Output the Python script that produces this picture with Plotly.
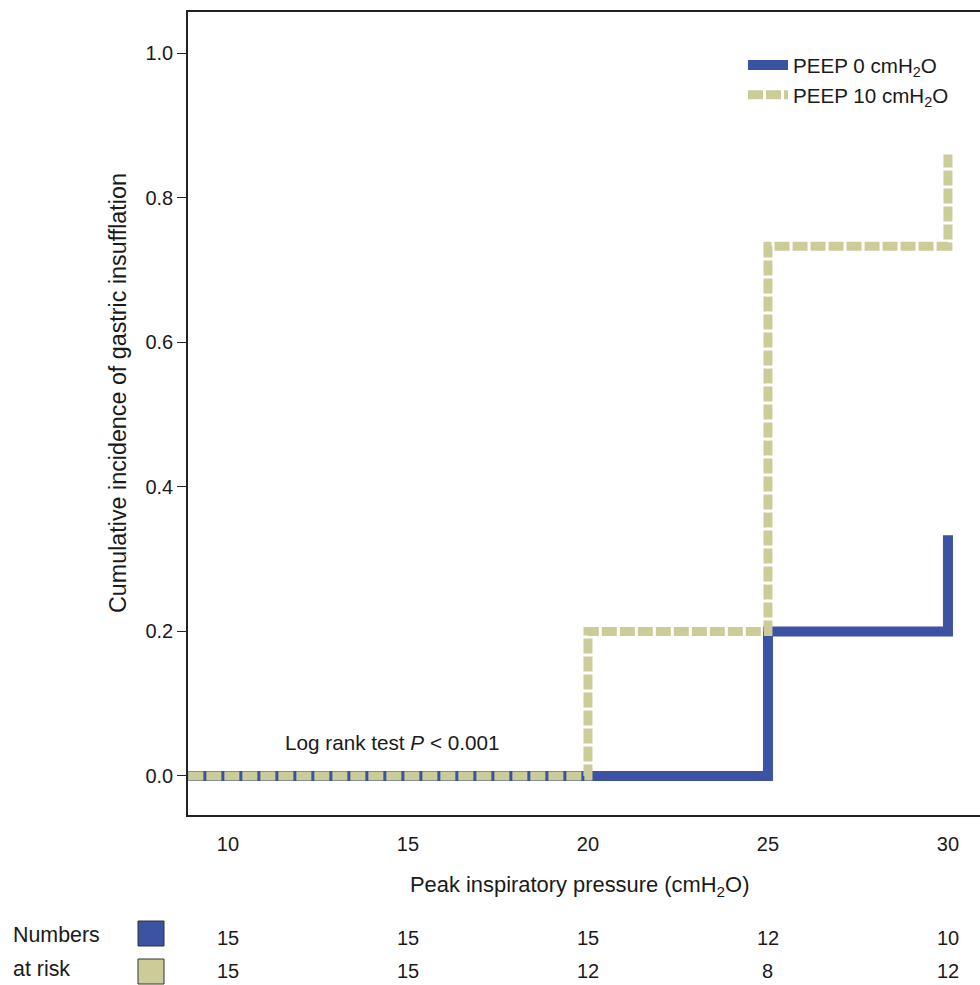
import plotly.graph_objects as go

# Data
peep0_x = [8.9, 25, 30]
peep0_y = [0.0, 0.2, 0.333]
peep10_x = [8.9, 20, 25, 30]
peep10_y = [0.0, 0.2, 0.733, 0.86]
risk_x = [10, 15, 20, 25, 30]
risk_peep0 = [15, 15, 15, 12, 10]
risk_peep10 = [15, 15, 12, 8, 12]
x_ticks = [10, 15, 20, 25, 30]
y_ticks = [0.0, 0.2, 0.4, 0.6, 0.8, 1.0]
y_ticktext = ["0.0", "0.2", "0.4", "0.6", "0.8", "1.0"]

BLUE = "#3C52A3"
KHAKI = "#CCCC99"
FONT = "Liberation Sans, Arial, sans-serif"
TXT = "#1a1a1a"

W, H = 980, 985
L, R, T, B = 188, 0, 12, 170
PW, PH = W - L - R, H - T - B


def px_to_paper_x(px):
    return (px - L) / PW


def px_to_paper_y(py):
    return (H - B - py) / PH


fig = go.Figure()
fig.add_trace(go.Scatter(x=peep0_x, y=peep0_y, mode="lines", line_shape="hv",
                         line=dict(color=BLUE, width=10), legendgroup="a",
                         name="PEEP 0 cmH<sub>2</sub>O"))
fig.add_trace(go.Scatter(x=peep10_x, y=peep10_y, mode="lines", line_shape="hv",
                         line=dict(color=KHAKI, width=9, dash="15px,3px"), legendgroup="b",
                         name="PEEP 10 cmH<sub>2</sub>O"))

fig.update_layout(
    width=W, height=H,
    margin=dict(l=L, r=R, t=T, b=B),
    paper_bgcolor="white", plot_bgcolor="white",
    font=dict(family=FONT, size=20, color=TXT),
    showlegend=True,
    legend=dict(x=px_to_paper_x(743), y=px_to_paper_y(45), xanchor="left", yanchor="top",
                bgcolor="rgba(0,0,0,0)", font=dict(size=20.6),
                tracegroupgap=0, itemwidth=40),
)
fig.update_xaxes(range=[8.89, 30.89], tickvals=x_ticks,
                 showgrid=False, zeroline=False,
                 showline=True, linecolor="#222", linewidth=1.5, mirror=True,
                 ticks="outside", ticklen=10, tickcolor="rgba(0,0,0,0)",
                 tickfont=dict(size=20))
fig.update_yaxes(range=[-0.054, 1.057], tickvals=y_ticks, ticktext=y_ticktext,
                 showgrid=False, zeroline=False,
                 showline=True, linecolor="#222", linewidth=1.5,
                 ticks="outside", ticklen=9, tickcolor="#222",
                 tickfont=dict(size=20))

# Axis titles
fig.add_annotation(x=px_to_paper_x(579), y=px_to_paper_y(886), xref="paper", yref="paper",
                   showarrow=False, text="Peak inspiratory pressure (cmH<sub>2</sub>O)",
                   font=dict(size=21.9), xanchor="center", yanchor="middle")
fig.add_annotation(x=px_to_paper_x(118), y=px_to_paper_y(393), xref="paper", yref="paper",
                   showarrow=False, text="Cumulative incidence of gastric insufflation",
                   textangle=-90, font=dict(size=23.3), xanchor="center", yanchor="middle")

fig.add_annotation(x=14.56, y=0.047, xref="x", yref="y", showarrow=False,
                   text="Log rank test <i>P</i> < 0.001", font=dict(size=20.7),
                   xanchor="center", yanchor="middle")

# Numbers at risk
for xv, a, b in zip(risk_x, risk_peep0, risk_peep10):
    fig.add_annotation(x=xv, y=px_to_paper_y(938), xref="x", yref="paper", showarrow=False,
                       text=str(a), font=dict(size=20), yanchor="middle", borderpad=0)
    fig.add_annotation(x=xv, y=px_to_paper_y(971), xref="x", yref="paper", showarrow=False,
                       text=str(b), font=dict(size=20), yanchor="middle", borderpad=0)

fig.add_annotation(x=px_to_paper_x(12), y=px_to_paper_y(935), xref="paper", yref="paper",
                   showarrow=False, text="Numbers", xanchor="left", yanchor="middle",
                   font=dict(size=21.4), borderpad=0)
fig.add_annotation(x=px_to_paper_x(12), y=px_to_paper_y(969), xref="paper", yref="paper",
                   showarrow=False, text="at risk", xanchor="left", yanchor="middle",
                   font=dict(size=21.4), borderpad=0)

for col, y0, y1 in [(BLUE, 921, 947), (KHAKI, 959, 985)]:
    fig.add_shape(type="rect", xref="paper", yref="paper",
                  x0=px_to_paper_x(138), x1=px_to_paper_x(164),
                  y0=px_to_paper_y(y0), y1=px_to_paper_y(y1 - 1),
                  fillcolor=col, line=dict(color="#333", width=1))

fig.write_html("out.html", config={"displayModeBar": False},
               post_script="document.body.style.margin='0px';")
